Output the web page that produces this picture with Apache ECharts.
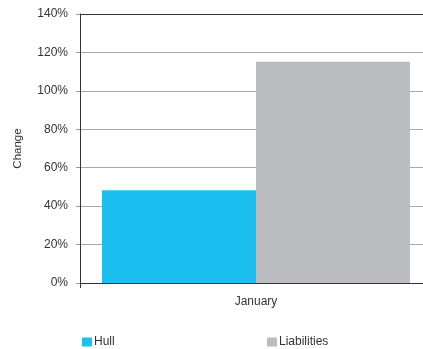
<!DOCTYPE html>
<html>
<head>
<meta charset="utf-8">
<script src="https://cdn.jsdelivr.net/npm/echarts@6/dist/echarts.min.js"></script>
<style>html,body{margin:0;padding:0;background:#fff;}#c{width:423px;height:349px;}</style>
</head>
<body>
<div id="c"></div>
<script>
var categories = ['January'];
var seriesNames = ['Hull', 'Liabilities'];
var hullValues = [48.3];
var liabilitiesValues = [115.2];
var yTicks = { min: 0, max: 140, interval: 20 };

var chart = echarts.init(document.getElementById('c'), null, { renderer: 'canvas' });
var font = 'Liberation Sans, Arial, Helvetica, sans-serif';
var legendText = { fontSize: 12, color: '#333', fontFamily: font, padding: [0, 0, 0, -3] };
chart.setOption({
  animation: false,
  textStyle: { fontFamily: font },
  grid: { left: 80, top: 14, bottom: 66, width: 352, containLabel: false, outerBoundsMode: 'none' },
  legend: [
    { data: [seriesNames[0]], left: 82, top: 336, padding: 0, icon: 'rect', itemWidth: 10, itemHeight: 9, itemGap: 0,
      textStyle: legendText },
    { data: [seriesNames[1]], left: 267, top: 336, padding: 0, icon: 'rect', itemWidth: 10, itemHeight: 9, itemGap: 0,
      textStyle: legendText }
  ],
  xAxis: [
    {
      type: 'category', data: categories, position: 'bottom',
      axisLine: { lineStyle: { color: '#333', width: 1 } },
      axisTick: { show: true, length: 5, lineStyle: { color: '#333' } },
      axisLabel: { fontSize: 12, color: '#333', margin: 13, fontFamily: font }
    },
    {
      type: 'category', data: categories, position: 'top',
      axisLine: { lineStyle: { color: '#333', width: 1 } },
      axisTick: { show: false }, axisLabel: { show: false }
    }
  ],
  yAxis: {
    type: 'value', min: yTicks.min, max: yTicks.max, interval: yTicks.interval,
    name: 'Change', nameLocation: 'middle', nameGap: 56, nameRotate: 90,
    nameTextStyle: { fontSize: 11.5, color: '#333', fontFamily: font, padding: [0, 0, 0, 0] },
    axisLine: { show: true, lineStyle: { color: '#333', width: 1 } },
    axisTick: { show: true, length: 4, lineStyle: { color: '#999' } },
    axisLabel: { fontSize: 12, color: '#333', margin: 12, formatter: '{value}%', fontFamily: font },
    splitLine: { show: true, lineStyle: { color: '#aaa', width: 1 } }
  },
  series: [
    { name: seriesNames[0], type: 'bar', data: hullValues, barGap: '0%', barCategoryGap: '12.5%',
      itemStyle: { color: '#1BC0F1' } },
    { name: seriesNames[1], type: 'bar', data: liabilitiesValues, barGap: '0%', barCategoryGap: '12.5%',
      itemStyle: { color: '#BBBCC0' } }
  ]
});
</script>
</body>
</html>
